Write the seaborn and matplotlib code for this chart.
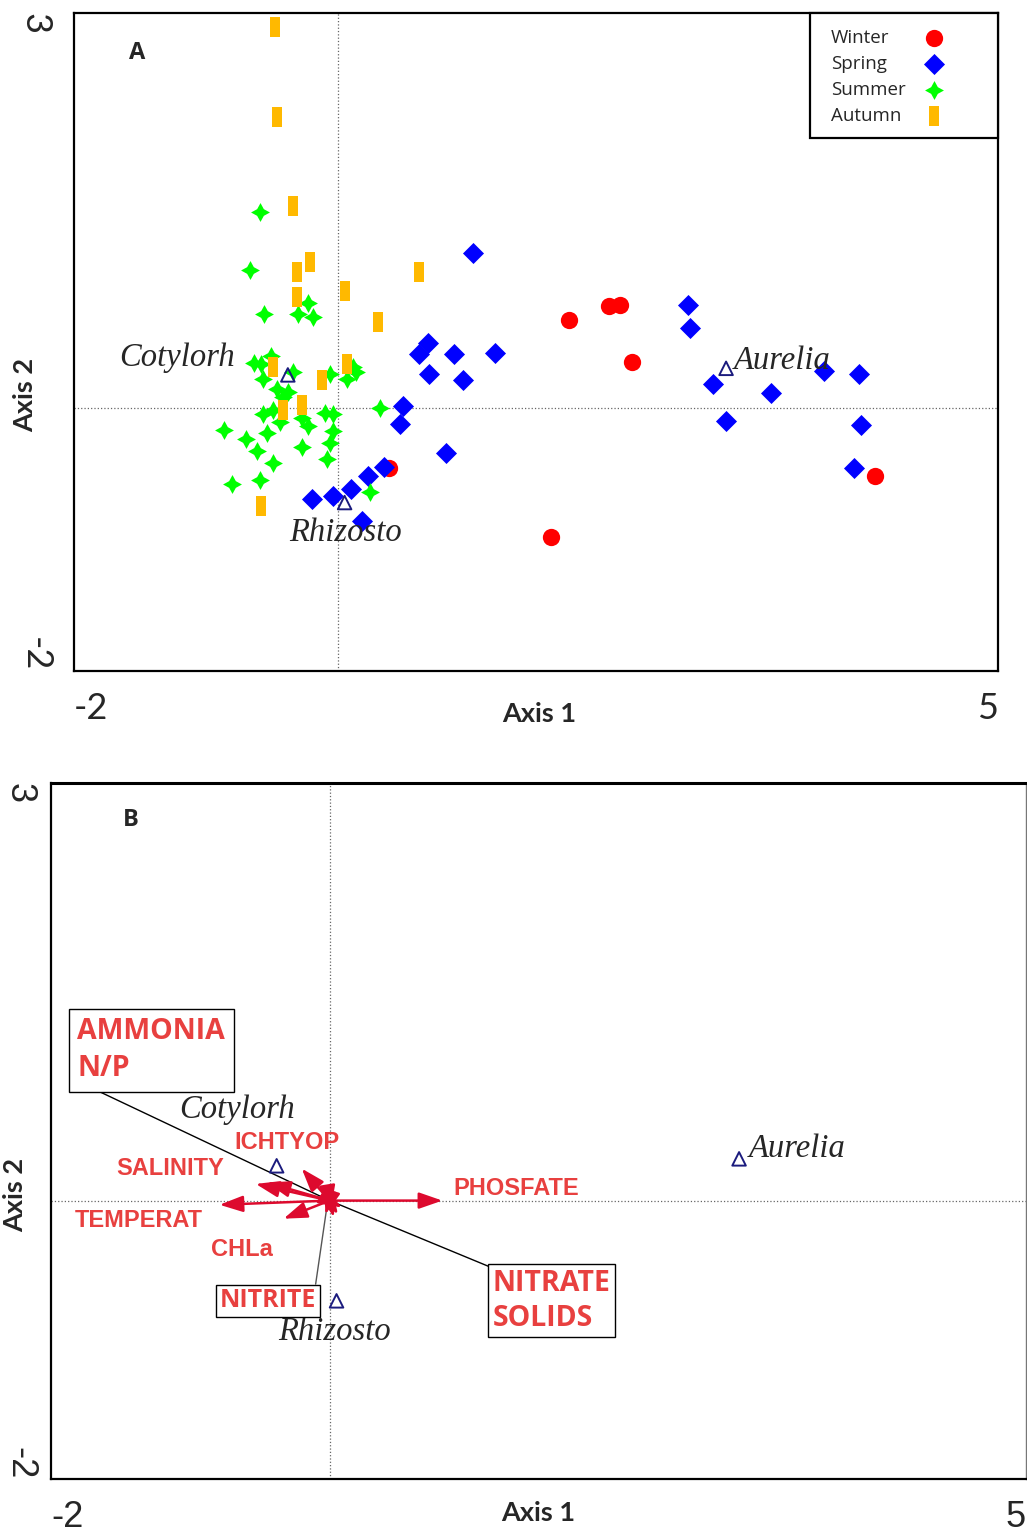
import numpy as np
import pandas as pd
import matplotlib
matplotlib.use("Agg")
import matplotlib.pyplot as plt
from matplotlib.patches import Rectangle
import seaborn as sns

# ---------------- data ----------------
winter_x = [1.75, 2.05, 2.14, 2.23, 0.39, 1.61, 4.07]
winter_y = [0.67, 0.77, 0.78, 0.35, -0.46, -0.98, -0.52]

spring_x = [1.02, 2.65, 2.67, 0.68, 0.61, 0.88, 1.19, 0.69, 0.95, 2.84, 3.28, 3.68, 3.95,
            0.49, 0.47, 2.94, 3.96, 0.82, 0.35, 0.23, 0.10, -0.04, 0.18, 3.91, -0.20]
spring_y = [1.18, 0.78, 0.61, 0.49, 0.41, 0.41, 0.42, 0.26, 0.21, 0.18, 0.11, 0.28, 0.26,
            0.01, -0.12, -0.10, -0.13, -0.34, -0.45, -0.52, -0.62, -0.67, -0.86, -0.46, -0.69]

summer_x = [-0.59, -0.67, -0.56, -0.23, -0.30, -0.19, -0.64, -0.58, -0.51, -0.57, -0.34, -0.06,
            0.11, 0.14, 0.07, -0.46, -0.38, -0.42, -0.57, -0.49, -0.44, -0.27, -0.23, -0.10,
            -0.04, -0.04, -0.06, -0.27, -0.54, -0.70, -0.86, -0.61, -0.49, -0.08, -0.59, -0.80,
            0.24, 0.32]
summer_y = [1.49, 1.05, 0.71, 0.80, 0.71, 0.69, 0.34, 0.33, 0.39, 0.22, 0.27, 0.26,
            0.31, 0.27, 0.22, 0.14, 0.12, 0.08, -0.05, -0.02, -0.11, -0.08, -0.14, -0.04,
            -0.05, -0.18, -0.27, -0.30, -0.19, -0.24, -0.17, -0.33, -0.42, -0.39, -0.55, -0.58,
            -0.64, 0.00]

autumn_x = [-0.48, -0.46, -0.34, -0.31, -0.21, -0.31, 0.05, 0.61, 0.30, -0.49, 0.07, -0.12,
            -0.42, -0.27, -0.58]
autumn_y = [2.89, 2.21, 1.53, 1.03, 1.11, 0.84, 0.89, 1.03, 0.65, 0.31, 0.33, 0.21,
            -0.02, 0.02, -0.75]

seasons = ["Winter", "Spring", "Summer", "Autumn"]
season_colors = ["#FF0000", "#0000FF", "#00FF00", "#FFB900"]

species_names = ["Cotylorh", "Rhizosto", "Aurelia"]
species_x = [-0.38, 0.05, 2.94]
species_y = [0.25, -0.72, 0.30]
# label anchor positions (panel A / panel B)
labA_x = [-0.78, -0.37, 3.00]
labA_y = [0.38, -0.95, 0.36]
labA_ha = ["right", "left", "left"]
labB_x = [-1.08, -0.37, 3.01]
labB_y = [0.65, -0.94, 0.37]
labB_ha = ["left", "left", "left"]

arrow_names = ["PHOSFATE", "TEMPERAT", "SALINITY", "SALINITY_b", "ICHTYOP", "CHLa",
               "AMMONIA", "N/P", "NITRATE", "SOLIDS", "NITRITE"]
arrow_x = [0.81, -0.79, -0.53, -0.45, -0.20, -0.33, 0.06, 0.09, 0.03, -0.03, 0.01]
arrow_y = [0.00, -0.03, 0.12, 0.13, 0.23, -0.13, -0.10, -0.05, -0.12, -0.10, -0.06]

plain_labels = ["PHOSFATE", "TEMPERAT", "SALINITY", "ICHTYOP", "CHLa"]
plain_lab_x = [0.89, -1.83, -1.53, -0.68, -0.85]
plain_lab_y = [0.09, -0.14, 0.23, 0.42, -0.35]

boxed_labels = ["AMMONIA\nN/P", "NITRATE\nSOLIDS", "NITRITE"]
boxed_x = [-1.81, 1.17, -0.79]
boxed_y = [1.08, -0.72, -0.72]
leader_from_x = [-1.71, 1.16, -0.10]
leader_from_y = [0.81, -0.48, -0.60]
leader_to_x = [0.0, 0.0, -0.02]
leader_to_y = [0.0, 0.0, -0.05]
leader_colors = ["black", "black", "#555555"]

# ---------------- style ----------------
sns.set_style("white")
plt.rcParams["font.family"] = ["Lato", "DejaVu Sans"]

W, H = 1027, 1533
fig = plt.figure(figsize=(W / 100, H / 100), dpi=100)

def px_axes(l, t, r, b):
    return fig.add_axes([l / W, 1 - b / H, (r - l) / W, (b - t) / H])

axA = px_axes(74, 13, 998, 671)
axB = px_axes(51, 783, 1026, 1479)

rows = []
for s, xs, ys in zip(seasons, [winter_x, spring_x, summer_x, autumn_x],
                     [winter_y, spring_y, summer_y, autumn_y]):
    for x, y in zip(xs, ys):
        rows.append((s, x, y))
df = pd.DataFrame(rows, columns=["season", "x", "y"])

rect = [(-0.5, -1), (0.5, -1), (0.5, 1), (-0.5, 1), (-0.5, -1)]
marker_map = {"Winter": "o", "Spring": "D", "Summer": (4, 1, 0), "Autumn": rect}
size_map = {"Winter": 155, "Spring": 115, "Summer": 185, "Autumn": 195}
palette = dict(zip(seasons, season_colors))

for s in seasons:
    sub = df[df.season == s]
    sns.scatterplot(data=sub, x="x", y="y", ax=axA, color=palette[s],
                    marker=marker_map[s], s=size_map[s], linewidth=0,
                    legend=False, zorder=3)

species_kw = dict(marker="^", s=95, facecolors="none", edgecolors="#1B1B7E",
                  linewidths=1.4, zorder=5)
for ax in (axA, axB):
    sns.scatterplot(x=species_x, y=species_y, ax=ax, legend=False, **species_kw)

serif = dict(family=["Liberation Serif", "DejaVu Serif"], style="italic", fontsize=23.5)
for n, x, y, ha in zip(species_names, labA_x, labA_y, labA_ha):
    axA.text(x, y, n, ha=ha, va="center", zorder=6, **serif)
for n, x, y, ha in zip(species_names, labB_x, labB_y, labB_ha):
    axB.text(x, y, n, ha=ha, va="center", zorder=6, **serif)

# legend (built by hand: text left, marker right, as in the original)
def ax_frac(px, py):
    return (px - 74) / 924, (671 - py) / 658

lx0, ly1 = ax_frac(810, 13)
lx1, ly0 = ax_frac(998, 138)
axA.add_patch(Rectangle((lx0, ly0), lx1 - lx0, ly1 - ly0, transform=axA.transAxes,
                        fc="white", ec="black", lw=1.6, zorder=8, clip_on=False))
for i, s in enumerate(seasons):
    tx, ty = ax_frac(831, 38 + 26 * i)
    mx, _ = ax_frac(934, 0)
    axA.text(tx, ty, s, transform=axA.transAxes, ha="left", va="center",
             fontsize=13.5, family=["Open Sans", "DejaVu Sans"], zorder=9)
    axA.scatter([mx], [ty], transform=axA.transAxes, marker=marker_map[s],
                s=size_map[s], color=palette[s], linewidths=0, zorder=9, clip_on=False)

# arrows in B
arrow_color = "#DD0A2E"
for x, y in zip(arrow_x, arrow_y):
    axB.annotate("", xy=(x, y), xytext=(0, 0),
                 arrowprops=dict(arrowstyle="-|>,head_length=0.95,head_width=0.33",
                                 mutation_scale=15, lw=1.8, color=arrow_color,
                                 shrinkA=0, shrinkB=0), zorder=4)

lab_color = "#E8403F"
for n, x, y in zip(plain_labels, plain_lab_x, plain_lab_y):
    axB.text(x, y, n, ha="left", va="center", color=lab_color, fontsize=17,
             fontweight="bold", family=["Liberation Sans", "DejaVu Sans"], zorder=6)

for fx, fy, tx, ty, c in zip(leader_from_x, leader_from_y, leader_to_x, leader_to_y, leader_colors):
    axB.plot([fx, tx], [fy, ty], color=c, lw=1.0, zorder=3)

box_sizes = [20.5, 20.5, 18]
box_ls = [1.35, 1.3, 1.2]
box_pads = [0.3, 0.15, 0.15]
for n, x, y, fs, ls, pd_ in zip(boxed_labels, boxed_x, boxed_y, box_sizes, box_ls, box_pads):
    axB.text(x, y, n, ha="left", va="center", color=lab_color, fontsize=fs,
             fontweight="bold", linespacing=ls,
             family=["Open Sans", "DejaVu Sans"], zorder=7,
             bbox=dict(boxstyle=f"square,pad={pd_}", fc="white", ec="black", lw=1.0))

# axes formatting
for ax, lab, (lx, ly), fam, ypad in ((axA, "A", (0.068, 0.939), "Lato", 10),
                                     (axB, "B", (0.082, 0.947), "Liberation Sans", 4)):
    ax.set_xlim(-2, 5)
    ax.set_ylim(-2, 3)
    ax.axhline(0, color="#666666", ls=":", lw=0.9, zorder=1)
    ax.axvline(0, color="#666666", ls=":", lw=0.9, zorder=1)
    ax.set_xticks(range(-2, 6))
    ax.set_xticklabels(["-2", "", "", "", "", "", "", "5"], fontsize=26, family=fam)
    ax.set_yticks(range(-2, 4))
    ax.set_yticklabels(["-2", "", "", "", "", "3"], fontsize=26, family=fam, rotation=-90)
    xt = ax.get_xticklabels()
    xt[0].set_ha("left"); xt[-1].set_ha("right")
    yt = ax.get_yticklabels()
    yt[0].set_va("bottom"); yt[-1].set_va("top")
    ax.tick_params(axis="both", direction="inout", length=12, width=1.2, color="black")
    ax.tick_params(axis="x", pad=9)
    ax.tick_params(axis="y", pad=ypad)
    ax.set_xlabel("Axis 1", fontsize=19.5, fontweight="bold", family="Lato")
    ax.set_ylabel("Axis 2", fontsize=19.5, fontweight="bold", family="Lato")
    ax.text(lx, ly, lab, transform=ax.transAxes, fontsize=17, fontweight="bold",
            ha="center", va="center", family="Open Sans")
    for sp in ax.spines.values():
        sp.set_color("black")
        sp.set_linewidth(1.6)

axA.xaxis.set_label_coords(0.504, -0.047)
axA.yaxis.set_label_coords(-0.040, 0.42)
axB.xaxis.set_label_coords(0.4995, -0.032)
axB.yaxis.set_label_coords(-0.024, 0.408)
axB.spines["right"].set_color("#777777")
axB.spines["right"].set_linewidth(1.0)
axB.spines["top"].set_linewidth(2.2)

fig.savefig("out.png", dpi=100)
